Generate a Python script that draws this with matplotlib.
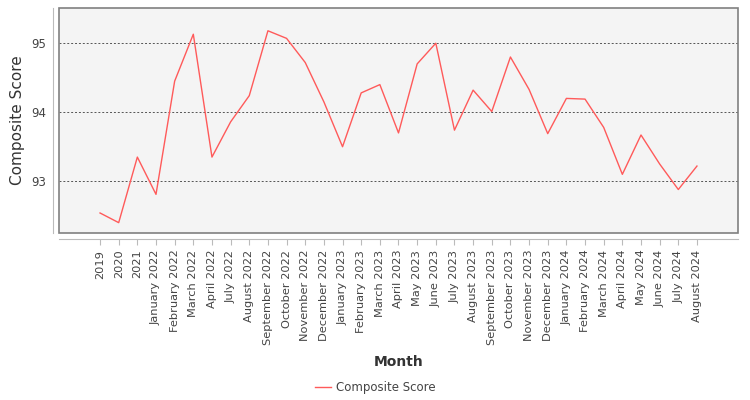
import matplotlib
matplotlib.use("Agg")
import matplotlib.pyplot as plt
from matplotlib.patches import Rectangle

categories = ["2019", "2020", "2021",
              "January 2022", "February 2022", "March 2022", "April 2022",
              "July 2022", "August 2022", "September 2022", "October 2022",
              "November 2022", "December 2022", "January 2023", "February 2023",
              "March 2023", "April 2023", "May 2023", "June 2023", "July 2023",
              "August 2023", "September 2023", "October 2023", "November 2023",
              "December 2023", "January 2024", "February 2024", "March 2024",
              "April 2024", "May 2024", "June 2024", "July 2024", "August 2024"]
composite_score = [92.54, 92.40, 93.35, 92.81, 94.45, 95.13, 93.35, 93.86,
                   94.24, 95.18, 95.07, 94.72, 94.15, 93.50, 94.28, 94.40,
                   93.70, 94.70, 95.00, 93.74, 94.32, 94.01, 94.80, 94.33,
                   93.69, 94.20, 94.19, 93.78, 93.10, 93.67, 93.25, 92.88,
                   93.22]
y_ticks = [93, 94, 95]

plt.rcParams['font.family'] = ['DejaVu Sans']
fig = plt.figure(figsize=(7.5, 4), dpi=100)
ax = fig.add_axes([59/750, 1 - 233/400, (738 - 59)/750, (233 - 8)/400])
ax.set_facecolor("#f4f4f4")

x = list(range(len(categories)))
line, = ax.plot(x, composite_score, color="#ff5a5a", lw=1.0, label="Composite Score")

ax.set_xlim(-2.2, len(categories) - 1 + 2.2)
ax.set_ylim(92.25, 95.51)
ax.set_yticks(y_ticks)
ax.set_yticklabels([str(v) for v in y_ticks])
ax.set_xticks(x)
ax.set_xticklabels(categories)

ax.grid(axis='y', color="#555555", linestyle=(0, (2, 2)), lw=0.7)
ax.grid(axis='x', visible=False)

for s in ['top', 'right']:
    ax.spines[s].set_visible(False)
ax.spines['left'].set_position(('outward', 4))
ax.spines['bottom'].set_position(('outward', 4))
ax.spines['left'].set_color("#bbbbbb")
ax.spines['bottom'].set_color("#bbbbbb")

frame = Rectangle((0, 0), 1, 1, transform=ax.transAxes, fill=False,
                  edgecolor="#808080", lw=1.2, clip_on=False, zorder=5)
ax.add_patch(frame)

ax.tick_params(axis='y', length=0, pad=5, labelsize=8.5, labelcolor="#444444")
ax.tick_params(axis='x', length=4, color="#bbbbbb", pad=4, labelsize=8.2,
               labelcolor="#444444", labelrotation=90)

ax.set_ylabel("Composite Score", fontsize=11, color="#333333", labelpad=5)
ax.set_xlabel("Month", fontsize=10, fontweight='bold', color="#333333", labelpad=7)

fig.legend(handles=[line], loc='center', bbox_to_anchor=(0.5, 1 - 388/400),
           frameon=False, fontsize=8.5, handlelength=1.4, handletextpad=0.4,
           labelcolor="#444444")

fig.savefig("out.png", dpi=100)
